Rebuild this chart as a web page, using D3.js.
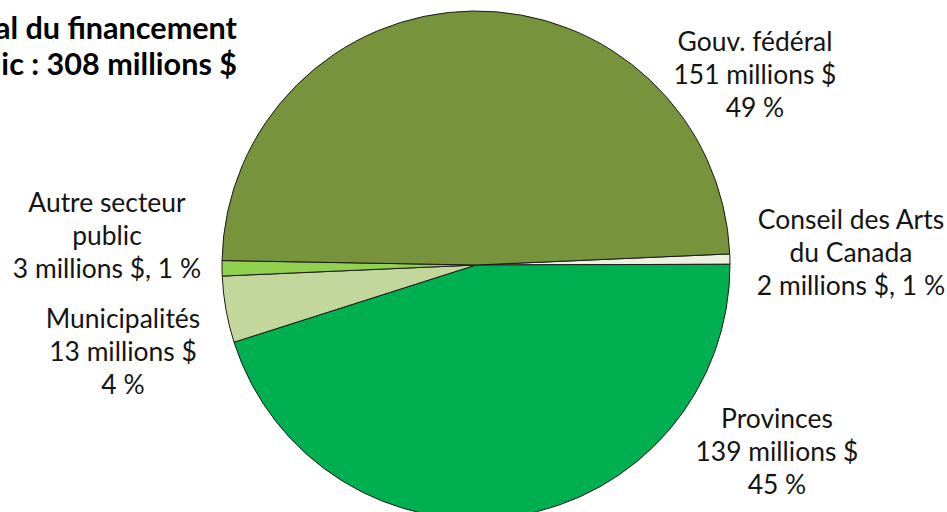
<!DOCTYPE html>
<html>
<head>
<meta charset="utf-8">
<script src="https://cdn.jsdelivr.net/npm/d3@7"></script>
<style>
  html, body { margin: 0; padding: 0; background: #fff; overflow: hidden; }
  svg { display: block; }
</style>
</head>
<body>
<svg id="chart" width="947" height="512"></svg>
<script>
// ---- Data ----
const categories = ["Conseil des Arts du Canada", "Provinces", "Municipalités", "Autre secteur public", "Gouv. fédéral"];
const values = [2, 139, 13, 3, 151];            // millions $
const percents = [1, 45, 4, 1, 49];
const labelLines = [
  ["Conseil des Arts", "du Canada", "2 millions $, 1 %"],
  ["Provinces", "139 millions $", "45 %"],
  ["Municipalités", "13 millions $", "4 %"],
  ["Autre secteur", "public", "3 millions $, 1 %"],
  ["Gouv. fédéral", "151 millions $", "49 %"]
];
const totalLines = ["Total du financement", "public : 308 millions $"];
const titleText = "Financement public des organismes, par type de palier de gouvernement";

// ---- Styles / layout ----
const colors = ["#EBF1DE", "#00B050", "#C3D69B", "#92D050", "#77933C"];
const labelPos = [[851, 229], [777, 428], [123, 328], [107, 212], [755, 51]];
const cx = 476, cy = 265, R = 254;
const lineH = 33;
const fontFam = "Lato, 'Open Sans', sans-serif";

const svg = d3.select("#chart");

// Fit Lato size to Calibri-like widths
const probe = svg.append("text").attr("font-family", fontFam).attr("font-size", 28).text("Gouv. fédéral");
const w = probe.node().getComputedTextLength();
probe.remove();
const fs = 28 * 155 / w;
const fsBold = fs * 30 / 28 * 1.08;

// ---- Pie ----
const startDeg = 87.5;
const pie = d3.pie().sort(null).value(d => d)
  .startAngle(startDeg * Math.PI / 180)
  .endAngle(startDeg * Math.PI / 180 + 2 * Math.PI);
const arc = d3.arc().innerRadius(0).outerRadius(R);

const g = svg.append("g").attr("transform", `translate(${cx},${cy})`);
g.selectAll("path")
  .data(pie(values))
  .join("path")
  .attr("d", arc)
  .attr("fill", (d, i) => colors[i])
  .attr("stroke", "#1a1a1a")
  .attr("stroke-width", 1)
  .attr("stroke-linejoin", "round");

// ---- Slice labels ----
const lg = svg.append("g")
  .attr("font-family", fontFam)
  .attr("font-size", fs)
  .attr("fill", "#141414")
  .attr("text-anchor", "middle");
labelLines.forEach((lines, i) => {
  const t = lg.append("text").attr("x", labelPos[i][0]).attr("y", labelPos[i][1]);
  lines.forEach((ln, j) => {
    t.append("tspan").attr("x", labelPos[i][0]).attr("y", labelPos[i][1] + j * lineH).text(ln);
  });
});

// ---- Total (bold, partly cut at left) ----
const tt = svg.append("text")
  .attr("font-family", fontFam)
  .attr("font-weight", "bold")
  .attr("font-size", fsBold)
  .attr("fill", "#000")
  .attr("text-anchor", "end");
totalLines.forEach((ln, j) => {
  tt.append("tspan").attr("x", 237).attr("y", 39 + j * 36).text(ln);
});

// ---- Title (cut off at top) ----
svg.append("text")
  .attr("x", 495).attr("y", -6)
  .attr("font-family", fontFam)
  .attr("font-weight", "bold")
  .attr("font-size", fs * 30 / 28)
  .attr("text-anchor", "middle")
  .attr("fill", "#000")
  .text(titleText);
</script>
</body>
</html>
